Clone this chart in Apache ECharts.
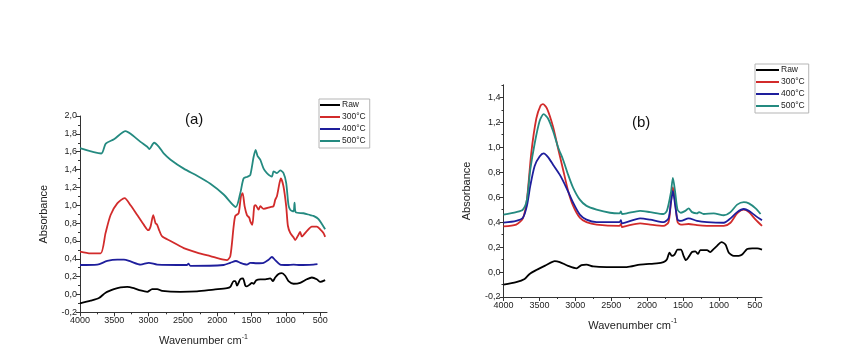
<!DOCTYPE html>
<html><head><meta charset="utf-8">
<script src="https://cdn.jsdelivr.net/npm/echarts@6/dist/echarts.min.js"></script>
<style>html,body{margin:0;padding:0;background:#fff}#c{width:850px;height:359px}</style>
</head><body><div id="c"></div>
<script>
// ---------- Tick labels ----------
const xTicks = [4000, 3500, 3000, 2500, 2000, 1500, 1000, 500];
const xMinorTicks = [3750, 3250, 2750, 2250, 1750, 1250, 750];
const yTicksA = [-0.2, 0.0, 0.2, 0.4, 0.6, 0.8, 1.0, 1.2, 1.4, 1.6, 1.8, 2.0];
const yMinorA = [-0.1, 0.1, 0.3, 0.5, 0.7, 0.9, 1.1, 1.3, 1.5, 1.7, 1.9];
const yTicksB = [-0.2, 0.0, 0.2, 0.4, 0.6, 0.8, 1.0, 1.2, 1.4];
const yMinorB = [-0.1, 0.1, 0.3, 0.5, 0.7, 0.9, 1.1, 1.3, 1.5];
const seriesNames = ['Raw', '300°C', '400°C', '500°C'];
const panelTitles = ['(a)', '(b)'];

// ---------- Panel (a) data ----------
const aRawX = [4000,3845,3724,3627,3505,3409,3312,3215,3118,3020,2948,2875,2803,2536,2294,2051,1857,1809,1761,1736,1712,1664,1625,1591,1567,1528,1494,1470,1431,1373,1300,1227,1188,1155,1106,1058,1009,961,888,791,694,621,549,500,427];
const aRawY = [-0.10,-0.07,-0.04,0.02,0.06,0.08,0.085,0.07,0.045,0.03,0.06,0.06,0.04,0.03,0.035,0.055,0.07,0.085,0.15,0.15,0.10,0.17,0.18,0.10,0.09,0.11,0.13,0.12,0.16,0.17,0.17,0.18,0.15,0.19,0.23,0.24,0.21,0.15,0.12,0.13,0.17,0.19,0.17,0.14,0.16];

const a300X = [4000,3845,3700,3627,3554,3457,3350,3263,3166,3069,3006,2972,2933,2900,2875,2851,2802,2681,2488,2294,2100,1906,1857,1809,1761,1736,1688,1654,1630,1601,1567,1533,1518,1489,1460,1441,1397,1373,1324,1227,1179,1155,1130,1092,1072,1034,995,970,936,888,864,815,791,767,694,621,549,500,452,427];
const a300Y = [0.48,0.46,0.46,0.69,0.89,1.02,1.08,1.00,0.89,0.78,0.72,0.76,0.89,0.80,0.78,0.73,0.65,0.60,0.52,0.47,0.43,0.39,0.385,0.43,0.76,0.88,0.91,1.10,1.135,0.99,0.89,0.86,0.82,0.78,0.99,1.00,0.95,0.99,0.96,0.98,0.99,1.06,1.10,1.25,1.30,1.21,0.99,0.77,0.69,0.64,0.61,0.67,0.70,0.65,0.71,0.76,0.76,0.73,0.69,0.645];

const a400X = [4000,3748,3603,3457,3360,3263,3118,2997,2875,2439,2420,2390,1906,1809,1727,1664,1567,1518,1421,1324,1251,1203,1155,1082,985,888,791,597,539];
const a400Y = [0.33,0.335,0.375,0.39,0.39,0.37,0.335,0.355,0.335,0.33,0.345,0.32,0.33,0.355,0.375,0.355,0.335,0.355,0.35,0.355,0.39,0.42,0.385,0.335,0.33,0.335,0.33,0.335,0.34];

const a500X = [4000,3690,3625,3505,3335,3263,3118,3020,2990,2920,2850,2780,2680,2488,2294,2100,1906,1730,1664,1615,1557,1518,1470,1440,1411,1373,1324,1276,1203,1179,1130,1082,1034,995,961,936,888,873,854,742,646,597,524,427];
const a500Y = [1.64,1.58,1.69,1.74,1.83,1.80,1.71,1.655,1.63,1.70,1.655,1.58,1.51,1.41,1.33,1.24,1.12,0.98,1.135,1.30,1.32,1.34,1.54,1.62,1.55,1.51,1.41,1.36,1.32,1.38,1.36,1.39,1.36,1.25,1.00,0.95,0.93,1.03,0.92,0.91,0.89,0.88,0.845,0.73];

// ---------- Panel (b) data ----------
const bRawX = [4000,3823,3706,3636,3543,3403,3287,3217,3100,2984,2914,2844,2751,2564,2284,2098,1865,1772,1725,1688,1655,1618,1576,1529,1492,1459,1422,1375,1329,1291,1259,1166,1119,1072,1026,965,909,862,792,723,676,606,536,466,400];
const bRawY = [-0.10,-0.08,-0.055,-0.015,0.016,0.056,0.088,0.08,0.05,0.03,0.056,0.06,0.045,0.04,0.04,0.06,0.07,0.08,0.10,0.155,0.13,0.14,0.18,0.18,0.13,0.095,0.12,0.16,0.165,0.145,0.175,0.175,0.16,0.185,0.21,0.24,0.22,0.155,0.13,0.13,0.14,0.185,0.19,0.19,0.18];

const b300X = [4000,3823,3730,3674,3613,3543,3487,3450,3394,3310,3240,3170,3100,3030,2937,2844,2704,2385,2365,2350,2284,2098,1958,1772,1702,1669,1641,1608,1576,1529,1422,1305,1166,932,839,746,653,583,489,400];
const b300Y = [0.365,0.38,0.43,0.58,0.955,1.23,1.33,1.345,1.31,1.165,0.99,0.82,0.65,0.53,0.435,0.40,0.38,0.37,0.385,0.36,0.37,0.39,0.38,0.37,0.40,0.555,0.68,0.555,0.40,0.38,0.385,0.375,0.37,0.37,0.395,0.47,0.50,0.48,0.42,0.37];

const b400X = [4000,3823,3730,3674,3627,3566,3497,3441,3380,3310,3217,3124,3030,2937,2844,2704,2385,2365,2350,2098,1958,1772,1702,1669,1641,1608,1576,1529,1422,1305,1166,932,839,746,653,583,489,400];
const b400Y = [0.395,0.41,0.435,0.53,0.69,0.85,0.925,0.95,0.92,0.86,0.78,0.675,0.555,0.46,0.42,0.40,0.40,0.415,0.39,0.43,0.42,0.40,0.43,0.555,0.65,0.53,0.42,0.41,0.43,0.41,0.40,0.395,0.43,0.48,0.505,0.49,0.45,0.415];

const b500X = [4000,3823,3730,3674,3627,3566,3497,3441,3380,3310,3240,3170,3100,3030,2937,2844,2704,2517,2385,2365,2350,2284,2098,1958,1772,1725,1669,1641,1608,1576,1529,1468,1422,1375,1305,1277,1212,1072,932,839,746,653,583,489,420];
const b500Y = [0.46,0.48,0.50,0.58,0.82,1.03,1.21,1.265,1.23,1.13,1.00,0.90,0.78,0.675,0.58,0.53,0.50,0.475,0.47,0.485,0.465,0.47,0.49,0.48,0.465,0.49,0.635,0.755,0.635,0.50,0.475,0.49,0.51,0.48,0.47,0.48,0.465,0.47,0.455,0.48,0.54,0.56,0.55,0.51,0.465];

// ---------- Chart ----------
const FONT = '"Liberation Sans", Arial, sans-serif';
const COLORS = ['#000000', '#d22b2b', '#1e1e9c', '#248a80'];
const AX = '#333333';
const zip = (xs, ys) => xs.map((x, i) => [x, ys[i]]);
const fmtY = v => (Math.abs(v) < 1e-9 ? 0 : v).toFixed(1).replace('.', ',');
const fmtX = v => String(Math.round(v));

function xMain(gi, gap) {
  return {
    type: 'value', gridIndex: gi, min: 400, max: 4000, inverse: true, position: 'bottom',
    axisLine: { show: true, onZero: false, lineStyle: { color: AX, width: 1 } },
    axisTick: { show: true, customValues: xTicks, length: 4, lineStyle: { color: AX } },
    axisLabel: { customValues: xTicks, formatter: fmtX, fontSize: 9, color: '#222', margin: 4, fontFamily: FONT },
    splitLine: { show: false },
    name: 'Wavenumber cm{s|-1}', nameLocation: 'middle', nameGap: gap,
    nameTextStyle: { fontSize: 11, color: '#222', fontFamily: FONT,
      rich: { s: { fontSize: 7, fontFamily: FONT, color: '#222', padding: [0, 0, 8, 0] } } }
  };
}
function xMinor(gi) {
  return {
    type: 'value', gridIndex: gi, min: 400, max: 4000, inverse: true, position: 'bottom',
    axisLine: { show: false, onZero: false }, axisLabel: { show: false }, splitLine: { show: false },
    axisTick: { show: true, customValues: xMinorTicks, length: 2, lineStyle: { color: AX } }
  };
}
function yMain(gi, max, ticks) {
  return {
    type: 'value', gridIndex: gi, min: -0.2, max: max, position: 'left',
    axisLine: { show: true, onZero: false, lineStyle: { color: AX, width: 1 } },
    axisTick: { show: true, customValues: ticks, length: 4, lineStyle: { color: AX } },
    axisLabel: { customValues: ticks, formatter: fmtY, fontSize: 9, color: '#222', margin: 3, fontFamily: FONT },
    splitLine: { show: false },
    name: 'Absorbance', nameLocation: 'middle', nameGap: 31, nameRotate: 90,
    nameTextStyle: { fontSize: 11, color: '#222', fontFamily: FONT }
  };
}
function yMinor(gi, max, ticks) {
  return {
    type: 'value', gridIndex: gi, min: -0.2, max: max, position: 'left',
    axisLine: { show: false, onZero: false }, axisLabel: { show: false }, splitLine: { show: false },
    axisTick: { show: true, customValues: ticks, length: 2, lineStyle: { color: AX } }
  };
}
function line(name, xi, yi, xs, ys, color) {
  return {
    name: name, type: 'line', xAxisIndex: xi, yAxisIndex: yi, data: zip(xs, ys),
    showSymbol: false, symbol: 'none', smooth: 0.25,
    lineStyle: { color: color, width: 1.8 }, itemStyle: { color: color },
    emphasis: { disabled: true }
  };
}
function legend(left, top, iw) {
  return {
    left: left, top: top, orient: 'vertical', icon: 'rect', itemWidth: iw, itemHeight: 2,
    itemGap: 2, padding: [1, 4, 2, 1], borderColor: '#b5b5b5', borderWidth: 1,
    data: seriesNames,
    textStyle: { fontSize: 8.5, color: '#222', fontFamily: FONT, lineHeight: 10, padding: [0, 0, 0, -3] }
  };
}

const chart = echarts.init(document.getElementById('c'), null, { renderer: 'canvas' });
chart.setOption({
  animation: false,
  backgroundColor: '#ffffff',
  title: [
    { text: panelTitles[0], left: 180, top: 107, textStyle: { fontSize: 15, fontWeight: 'normal', color: '#111', fontFamily: FONT } },
    { text: panelTitles[1], left: 627, top: 110, textStyle: { fontSize: 15, fontWeight: 'normal', color: '#111', fontFamily: FONT } }
  ],
  legend: [legend(319, 99, 20), legend(755, 64, 23)],
  grid: [
    { left: 80, top: 116, width: 247, height: 196.3 },
    { left: 503.5, top: 84.8, width: 258.5, height: 212.2 }
  ],
  xAxis: [xMain(0, 21), xMain(1, 21), xMinor(0), xMinor(1)],
  yAxis: [yMain(0, 2.0, yTicksA), yMain(1, 1.5, yTicksB), yMinor(0, 2.0, yMinorA), yMinor(1, 1.5, yMinorB)],
  series: [
    line(seriesNames[0], 0, 0, aRawX, aRawY, COLORS[0]),
    line(seriesNames[1], 0, 0, a300X, a300Y, COLORS[1]),
    line(seriesNames[2], 0, 0, a400X, a400Y, COLORS[2]),
    line(seriesNames[3], 0, 0, a500X, a500Y, COLORS[3]),
    line(seriesNames[0], 1, 1, bRawX, bRawY, COLORS[0]),
    line(seriesNames[1], 1, 1, b300X, b300Y, COLORS[1]),
    line(seriesNames[2], 1, 1, b400X, b400Y, COLORS[2]),
    line(seriesNames[3], 1, 1, b500X, b500Y, COLORS[3])
  ]
});
</script>
</body></html>
